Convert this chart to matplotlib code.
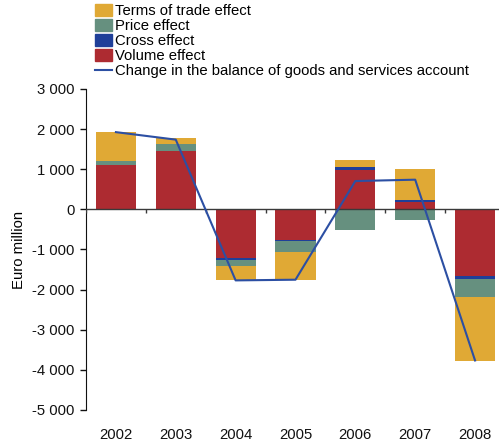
import numpy as np
import matplotlib
matplotlib.use("Agg")
import matplotlib.pyplot as plt
from matplotlib.patches import Patch
from matplotlib.lines import Line2D
from matplotlib.ticker import FuncFormatter

plt.rcParams['font.family'] = ['Liberation Sans', 'DejaVu Sans']

years = ['2002', '2003', '2004', '2005', '2006', '2007', '2008']
volume = [1097, 1446, -1222, -773, 973, 175, -1671]
cross = [0, 0, -50, -17, 74, 50, -75]
price = [100, 175, -149, -278, -524, -274, -449]
terms = [723, 149, -350, -690, 175, 773, -1588]
balance = [1925, 1738, -1770, -1753, 706, 740, -3766]

c_terms = '#e0a935'
c_price = '#66907f'
c_cross = '#1f3f99'
c_volume = '#ad2b31'
c_line = '#2c4fa3'
fs = 10.7

fig = plt.figure(figsize=(4.99, 4.43), dpi=100)
ax = fig.add_axes([0.1723, 0.0745, 0.8397, 0.7246])

x = np.arange(len(years))
w = 0.67
pos_base = np.zeros(len(years))
neg_base = np.zeros(len(years))
for vals, col in [(volume, c_volume), (cross, c_cross), (price, c_price), (terms, c_terms)]:
    v = np.array(vals, dtype=float)
    pos = np.where(v > 0, v, 0)
    neg = np.where(v < 0, v, 0)
    ax.bar(x, pos, w, bottom=pos_base, color=col, linewidth=0)
    ax.bar(x, neg, w, bottom=neg_base, color=col, linewidth=0)
    pos_base += pos
    neg_base += neg

# zero line with category separators
ax.axhline(0, color='#3a3a3a', linewidth=1.0, zorder=3)
bounds = np.arange(len(years) + 1) - 0.5
ax.vlines(bounds, -100, 0, color='#3a3a3a', linewidth=1.0, zorder=3)

ax.plot(x, balance, color=c_line, linewidth=1.5, zorder=4)

ax.set_xlim(-0.5, len(years) - 0.5)
ax.set_ylim(-5000, 3000)
ax.set_yticks(np.arange(-5000, 3001, 1000))
ax.yaxis.set_major_formatter(FuncFormatter(lambda v, p: f"{int(v):,}".replace(',', ' ')))
ax.set_xticks(x)
ax.set_xticklabels(years)
ax.tick_params(axis='x', length=0, pad=13, labelsize=fs, colors='#111111')
ax.tick_params(axis='y', length=4, width=1, direction='out', pad=4, labelsize=fs, colors='#111111')
for s in ['top', 'right', 'bottom']:
    ax.spines[s].set_visible(False)
ax.spines['left'].set_color('#111111')
ax.set_ylabel('Euro million', fontsize=fs, labelpad=5)

handles = [Patch(color=c_terms), Patch(color=c_price), Patch(color=c_cross),
           Patch(color=c_volume), Line2D([], [], color=c_line, linewidth=1.5)]
labels = ['Terms of trade effect', 'Price effect', 'Cross effect', 'Volume effect',
          'Change in the balance of goods and services account']
fig.legend(handles, labels, loc='upper left', bbox_to_anchor=(0.188, 0.994),
           frameon=False, fontsize=fs, handlelength=1.1, handleheight=0.8,
           handletextpad=0.2, labelspacing=0.07, borderpad=0.1, borderaxespad=0)

fig.savefig('out.png', dpi=100)
